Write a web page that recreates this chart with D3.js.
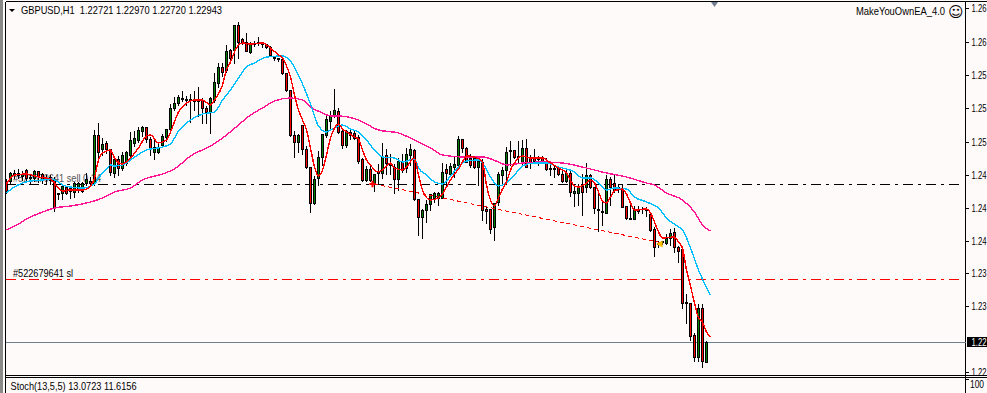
<!DOCTYPE html>
<html>
<head>
<meta charset="utf-8">
<script src="https://cdnjs.cloudflare.com/ajax/libs/d3/7.8.5/d3.min.js"></script>
<style>
	html, body { margin: 0; padding: 0; background: #FFFAFA; overflow: hidden; }
	svg { display: block; }
	text { font-family: "Liberation Sans", sans-serif; font-size: 10.5px; fill: #000; }
</style>
</head>
<body>
<div id="chart"></div>
<script>
// GBPUSD H1 candles, oldest first
const opens = [1.24714,1.24714,1.24802,1.24780,1.24769,1.24835,1.24758,1.24747,1.24824,1.24791,1.24747,1.24758,1.24725,1.24571,1.24582,1.24648,1.24637,1.24593,1.24615,1.24604,1.24692,1.24714,1.24692,1.25220,1.25066,1.25132,1.25066,1.24802,1.24956,1.24857,1.24912,1.25000,1.25132,1.25165,1.25264,1.25308,1.25176,1.25033,1.25033,1.25110,1.25198,1.25286,1.25517,1.25572,1.25627,1.25616,1.25616,1.25594,1.25605,1.25605,1.25517,1.25473,1.25605,1.25792,1.25968,1.25935,1.26155,1.26155,1.26430,1.26276,1.26243,1.26133,1.26232,1.26232,1.26232,1.26221,1.26188,1.26078,1.26067,1.26056,1.25902,1.25715,1.25220,1.25143,1.25330,1.25066,1.24868,1.24472,1.24747,1.24978,1.25220,1.25374,1.25429,1.25484,1.25264,1.25110,1.25253,1.25242,1.25198,1.24956,1.24725,1.24846,1.24692,1.24802,1.24802,1.25000,1.24912,1.24868,1.24736,1.24923,1.24857,1.25000,1.25055,1.24516,1.24318,1.24395,1.24461,1.24527,1.24527,1.24527,1.24846,1.24791,1.24868,1.24890,1.25176,1.25077,1.24967,1.24967,1.24868,1.24923,1.24406,1.24406,1.24208,1.24483,1.24780,1.24835,1.25044,1.25055,1.24978,1.24912,1.25077,1.24978,1.24978,1.24956,1.24967,1.24923,1.24857,1.24857,1.24857,1.24791,1.24714,1.24802,1.24582,1.24582,1.24659,1.24648,1.24780,1.24648,1.24406,1.24384,1.24362,1.24736,1.24692,1.24648,1.24626,1.24439,1.24307,1.24296,1.24406,1.24406,1.24406,1.24351,1.24186,1.24032,1.24054,1.24032,1.24087,1.24153,1.23988,1.23966,1.23383,1.23372,1.23020,1.22778,1.23317,1.22721];
const highs = [1.24747,1.24824,1.24846,1.24857,1.24835,1.24857,1.24802,1.24846,1.24835,1.24813,1.24791,1.24791,1.24769,1.24593,1.24670,1.24659,1.24670,1.24714,1.24714,1.24714,1.24813,1.24769,1.25286,1.25363,1.25198,1.25165,1.25077,1.25000,1.25000,1.25044,1.25055,1.25264,1.25275,1.25319,1.25330,1.25319,1.25209,1.25187,1.25154,1.25242,1.25297,1.25572,1.25649,1.25671,1.25715,1.25660,1.25682,1.25715,1.25759,1.25638,1.25550,1.25649,1.25913,1.26023,1.26023,1.26221,1.26177,1.26441,1.26474,1.26298,1.26353,1.26254,1.26265,1.26309,1.26254,1.26232,1.26210,1.26100,1.26078,1.26078,1.25902,1.25726,1.25275,1.25242,1.25341,1.25110,1.24879,1.24780,1.25055,1.25242,1.25440,1.25495,1.25737,1.25528,1.25286,1.25286,1.25286,1.25275,1.25231,1.24978,1.24890,1.24890,1.24802,1.24912,1.25143,1.25077,1.25022,1.24912,1.24978,1.25022,1.25088,1.25132,1.25077,1.24527,1.24417,1.24516,1.24582,1.24604,1.24604,1.24923,1.24912,1.24923,1.25000,1.25220,1.25187,1.25099,1.25022,1.25000,1.24978,1.24967,1.24450,1.24417,1.24483,1.24824,1.24879,1.25099,1.25165,1.25066,1.25165,1.25176,1.25187,1.25011,1.25077,1.25000,1.25000,1.24978,1.24912,1.24901,1.24890,1.24835,1.24857,1.24835,1.24659,1.24692,1.24802,1.24923,1.24802,1.24659,1.24615,1.24505,1.24791,1.24769,1.24802,1.24692,1.24692,1.24450,1.24505,1.24450,1.24450,1.24439,1.24439,1.24384,1.24219,1.24065,1.24065,1.24142,1.24197,1.24208,1.24010,1.24010,1.23482,1.23383,1.23053,1.23372,1.23372,1.22970];
const lows = [1.24582,1.24692,1.24747,1.24747,1.24725,1.24714,1.24692,1.24714,1.24703,1.24692,1.24681,1.24681,1.24384,1.24516,1.24516,1.24571,1.24527,1.24538,1.24593,1.24593,1.24670,1.24670,1.24670,1.24923,1.25000,1.25022,1.24780,1.24758,1.24780,1.24835,1.24890,1.24978,1.25099,1.25143,1.25209,1.25143,1.25000,1.24956,1.25022,1.25088,1.25154,1.25264,1.25495,1.25550,1.25594,1.25550,1.25363,1.25495,1.25429,1.25352,1.25352,1.25242,1.25583,1.25748,1.25869,1.25913,1.26056,1.26012,1.26067,1.26221,1.26144,1.26122,1.26199,1.26210,1.26188,1.26177,1.26089,1.26045,1.26034,1.25891,1.25704,1.25209,1.24978,1.25033,1.25011,1.24857,1.24373,1.24461,1.24670,1.24890,1.25198,1.25275,1.25418,1.25242,1.25077,1.25088,1.25176,1.25176,1.24912,1.24714,1.24714,1.24714,1.24604,1.24692,1.24747,1.24791,1.24791,1.24582,1.24615,1.24813,1.24813,1.24890,1.24505,1.24120,1.24087,1.24263,1.24395,1.24483,1.24450,1.24527,1.24670,1.24780,1.24758,1.24879,1.25033,1.24923,1.24868,1.24857,1.24670,1.24285,1.24252,1.24142,1.24065,1.24450,1.24670,1.24703,1.24890,1.24967,1.24923,1.24901,1.24868,1.24857,1.24912,1.24890,1.24912,1.24835,1.24780,1.24758,1.24780,1.24703,1.24703,1.24549,1.24439,1.24450,1.24340,1.24593,1.24637,1.24362,1.24164,1.24230,1.24362,1.24450,1.24593,1.24593,1.24428,1.24296,1.24296,1.24296,1.24362,1.24362,1.24329,1.24164,1.23889,1.23988,1.24021,1.24021,1.24010,1.23933,1.23823,1.23317,1.23152,1.22965,1.22734,1.22734,1.22668,1.22720];
const closes = [1.24604,1.24802,1.24791,1.24802,1.24791,1.24747,1.24747,1.24824,1.24769,1.24725,1.24736,1.24725,1.24428,1.24582,1.24659,1.24582,1.24604,1.24692,1.24692,1.24692,1.24736,1.24692,1.25220,1.25033,1.25121,1.25066,1.24813,1.24956,1.24857,1.25000,1.25033,1.25165,1.25187,1.25275,1.25308,1.25176,1.25066,1.25088,1.25088,1.25209,1.25286,1.25517,1.25572,1.25638,1.25616,1.25605,1.25605,1.25616,1.25594,1.25517,1.25473,1.25627,1.25803,1.25968,1.25913,1.26144,1.26067,1.26430,1.26243,1.26232,1.26144,1.26232,1.26221,1.26243,1.26221,1.26188,1.26100,1.26067,1.26056,1.25902,1.25715,1.25220,1.25143,1.25220,1.25066,1.24868,1.24472,1.24736,1.24978,1.25231,1.25396,1.25440,1.25495,1.25253,1.25110,1.25264,1.25220,1.25187,1.24934,1.24725,1.24846,1.24725,1.24791,1.24824,1.24989,1.24912,1.24890,1.24736,1.24934,1.24835,1.25011,1.25066,1.24516,1.24318,1.24395,1.24461,1.24571,1.24582,1.24582,1.24813,1.24802,1.24879,1.24901,1.25176,1.25077,1.24923,1.24890,1.24868,1.24934,1.24395,1.24384,1.24186,1.24472,1.24791,1.24835,1.25033,1.25055,1.24978,1.24989,1.25077,1.24868,1.24923,1.24934,1.24978,1.24923,1.24846,1.24846,1.24846,1.24791,1.24714,1.24802,1.24593,1.24604,1.24659,1.24593,1.24780,1.24648,1.24417,1.24395,1.24373,1.24736,1.24648,1.24615,1.24626,1.24428,1.24307,1.24296,1.24395,1.24384,1.24406,1.24395,1.24175,1.23988,1.24021,1.24043,1.24087,1.24142,1.23988,1.23944,1.23372,1.23372,1.23009,1.22778,1.23317,1.22734,1.22943];

// moving averages as [bar, price], read where the line is visible
const fastMa = [[0,1.24681],[2,1.24780],[5,1.24791],[8,1.24758],[11,1.24736],[13,1.24637],[14,1.24604],[16,1.24615],[19,1.24615],[21,1.24659],[22,1.24747],[23,1.24945],[24,1.25022],[26,1.25055],[27,1.24967],[29,1.24901],[31,1.24967],[33,1.25077],[35,1.25209],[36,1.25220],[38,1.25132],[40,1.25165],[41,1.25253],[43,1.25473],[45,1.25572],[47,1.25605],[49,1.25605],[51,1.25550],[52,1.25605],[54,1.25770],[55,1.25935],[56,1.26023],[57,1.26133],[58,1.26210],[59,1.26232],[61,1.26221],[64,1.26232],[66,1.26177],[68,1.26100],[69,1.26067],[70,1.25979],[71,1.25858],[72,1.25660],[73,1.25495],[74,1.25385],[75,1.25275],[76,1.25077],[77,1.24868],[78,1.24769],[79,1.24835],[80,1.25000],[81,1.25187],[82,1.25297],[83,1.25341],[84,1.25286],[85,1.25253],[87,1.25198],[88,1.25176],[89,1.25055],[90,1.24945],[91,1.24890],[92,1.24835],[93,1.24813],[95,1.24879],[96,1.24912],[97,1.24857],[99,1.24835],[100,1.24868],[102,1.24967],[103,1.24780],[104,1.24615],[106,1.24505],[108,1.24527],[109,1.24571],[110,1.24648],[111,1.24725],[112,1.24791],[113,1.24846],[114,1.24923],[115,1.24989],[117,1.24978],[119,1.24923],[120,1.24670],[121,1.24505],[122,1.24439],[123,1.24527],[124,1.24626],[125,1.24703],[126,1.24835],[127,1.24912],[128,1.24967],[129,1.24989],[131,1.24967],[134,1.24967],[136,1.24912],[138,1.24857],[140,1.24802],[142,1.24659],[143,1.24648],[145,1.24692],[146,1.24725],[147,1.24692],[148,1.24593],[149,1.24494],[150,1.24472],[151,1.24538],[152,1.24604],[154,1.24626],[155,1.24571],[156,1.24472],[157,1.24395],[160,1.24406],[161,1.24362],[162,1.24263],[163,1.24153],[164,1.24087],[167,1.24098],[168,1.24043],[169,1.23977],[170,1.23735],[171,1.23559],[172,1.23372],[173,1.23207],[174,1.23163],[175,1.23053],[176,1.22998]];
const midMa = [[0,1.24582],[2,1.24648],[4,1.24692],[6,1.24714],[9,1.24725],[11,1.24736],[13,1.24703],[14,1.24670],[16,1.24648],[19,1.24637],[22,1.24681],[23,1.24747],[25,1.24846],[26,1.24890],[27,1.24879],[29,1.24890],[32,1.24978],[35,1.25055],[39,1.25088],[41,1.25121],[43,1.25264],[46,1.25385],[49,1.25451],[52,1.25473],[54,1.25605],[56,1.25715],[58,1.25847],[60,1.25968],[62,1.26012],[65,1.26078],[69,1.26089],[71,1.26034],[74,1.25781],[76,1.25561],[78,1.25319],[80,1.25253],[81,1.25275],[84,1.25330],[86,1.25286],[88,1.25253],[90,1.25165],[92,1.25055],[94,1.24978],[97,1.24967],[99,1.24923],[102,1.24956],[103,1.24857],[105,1.24780],[107,1.24703],[109,1.24681],[111,1.24769],[113,1.24868],[115,1.24934],[118,1.24945],[119,1.24912],[121,1.24758],[123,1.24659],[125,1.24692],[127,1.24780],[129,1.24879],[132,1.24912],[135,1.24912],[138,1.24868],[139,1.24857],[142,1.24813],[144,1.24747],[146,1.24747],[148,1.24692],[150,1.24615],[152,1.24637],[155,1.24626],[157,1.24538],[160,1.24483],[163,1.24417],[165,1.24307],[168,1.24208],[169,1.24175],[171,1.23977],[173,1.23735],[176,1.23460]];
const slowMa = [[0,1.24175],[3,1.24241],[5,1.24296],[9,1.24373],[12,1.24417],[16,1.24439],[21,1.24483],[24,1.24527],[27,1.24593],[31,1.24637],[34,1.24725],[39,1.24791],[42,1.24846],[46,1.24989],[51,1.25099],[54,1.25187],[58,1.25330],[61,1.25440],[64,1.25517],[67,1.25594],[71,1.25627],[74,1.25605],[76,1.25528],[79,1.25462],[81,1.25429],[83,1.25429],[88,1.25385],[93,1.25275],[98,1.25242],[102,1.25165],[106,1.25077],[109,1.25000],[114,1.24978],[119,1.24978],[123,1.24923],[125,1.24890],[129,1.24912],[134,1.24923],[139,1.24912],[145,1.24857],[150,1.24802],[155,1.24758],[160,1.24692],[162,1.24670],[165,1.24582],[169,1.24505],[172,1.24373],[174,1.24230],[176,1.24164]];

// trade 522679641, entered and closed on these bars
const tradeBars = [92, 164];
const tradePrices = [1.24681, 1.24032];
const orderPrice = 1.24681;
const stopPrice = 1.23636;
const bidPrice = 1.22943;

const priceTicks = [1.26617, 1.26243, 1.25880, 1.25517, 1.25143, 1.24780, 1.24417, 1.24054, 1.23702, 1.23339, 1.22613];

const chart_width = 987;
const chart_height = 393;
const axis_x = 965.5;

const x_scale = d3.scaleLinear()
	.domain([0, 175])
	.range([6.5, 706.5]);

const y_scale = d3.scaleLinear()
	.domain([1.26705, 1.22613])
	.range([0, 372]);

const py = (p) => Math.round(y_scale(p)) + 0.5;

const svg = d3.select('#chart')
	.append('svg')
	.attr('width', chart_width)
	.attr('height', chart_height);

svg.append('rect')
	.attr('width', chart_width)
	.attr('height', chart_height)
	.attr('fill', '#FFFAFA');

// window frame
svg.append('rect').attr('x', 0).attr('y', 0).attr('width', 3).attr('height', chart_height).attr('fill', '#8A8A8A');
const frame_lines = [[5.5, 1.5, 5.5, chart_height], [5.5, 1.5, chart_width, 1.5], [5.5, 375.5, chart_width, 375.5], [5.5, 377.5, chart_width, 377.5], [axis_x, 1.5, axis_x, chart_height]];
svg.selectAll('line.frame')
	.data(frame_lines)
	.enter()
	.append('line')
	.attr('class', 'frame')
	.attr('x1', (d) => d[0])
	.attr('y1', (d) => d[1])
	.attr('x2', (d) => d[2])
	.attr('y2', (d) => d[3])
	.attr('stroke', '#000')
	.attr('shape-rendering', 'crispEdges');

// order lines and their labels sit under the candles
function levelLine(price, color) {
	svg.append('line')
		.attr('x1', 6)
		.attr('x2', 962)
		.attr('y1', py(price))
		.attr('y2', py(price))
		.attr('stroke', color)
		.attr('stroke-dasharray', '10 5 3 5')
		.attr('shape-rendering', 'crispEdges');
}
levelLine(orderPrice, '#000');
levelLine(stopPrice, '#FF0000');

// text drawn to the width it has in the terminal font
function label(x, y, str, width) {
	return svg.append('text')
		.attr('x', x)
		.attr('y', y)
		.attr('textLength', width)
		.attr('lengthAdjust', 'spacingAndGlyphs')
		.text(str);
}

label(13, 182, '#522679641 sell 0.14', 88).style('fill', '#555');
label(13, 277, '#522679641 sl', 60);

svg.append('line')
	.attr('x1', 6)
	.attr('x2', axis_x)
	.attr('y1', py(bidPrice))
	.attr('y2', py(bidPrice))
	.attr('stroke', '#708090')
	.attr('shape-rendering', 'crispEdges');

// candles
const bars = d3.range(opens.length);
const candle = svg.append('g')
	.attr('shape-rendering', 'crispEdges')
	.selectAll('g')
	.data(bars)
	.enter()
	.append('g');

candle.append('line')
	.attr('x1', (i) => x_scale(i))
	.attr('x2', (i) => x_scale(i))
	.attr('y1', (i) => py(highs[i]))
	.attr('y2', (i) => py(lows[i]))
	.attr('stroke', '#000');

candle.append('rect')
	.attr('x', (i) => x_scale(i) - 1)
	.attr('width', 2)
	.attr('y', (i) => py(Math.max(opens[i], closes[i])))
	.attr('height', (i) => py(Math.min(opens[i], closes[i])) - py(Math.max(opens[i], closes[i])))
	.attr('fill', (i) => closes[i] > opens[i] ? '#008000' : '#FF0000')
	.attr('stroke', '#000');

// moving averages
const ma_line = d3.line()
	.x((d) => x_scale(d[0]))
	.y((d) => y_scale(d[1]))
	.curve(d3.curveMonotoneX);

[[slowMa, '#FF1493'], [midMa, '#00BFFF'], [fastMa, '#FF0000']].forEach(function(ma) {
	svg.append('path')
		.attr('d', ma_line(ma[0]))
		.attr('fill', 'none')
		.attr('stroke', ma[1])
		.attr('stroke-width', 1.4)
		.attr('shape-rendering', 'crispEdges');
});

// trade line, entry cross and exit arrow
svg.append('line')
	.attr('x1', x_scale(tradeBars[0]))
	.attr('y1', y_scale(tradePrices[0]))
	.attr('x2', x_scale(tradeBars[1]))
	.attr('y2', y_scale(tradePrices[1]))
	.attr('stroke', '#FF0000')
	.attr('stroke-dasharray', '4 3')
	.attr('shape-rendering', 'crispEdges');

svg.append('path')
	.attr('d', d3.symbol(d3.symbolCross, 22)())
	.attr('transform', 'translate(' + (x_scale(tradeBars[0]) - 2) + ',' + y_scale(tradePrices[0]) + ')')
	.attr('fill', '#FF0000');

svg.append('path')
	.attr('d', d3.symbol(d3.symbolTriangle, 22)())
	.attr('transform', 'translate(' + (x_scale(tradeBars[1]) - 2) + ',' + (y_scale(tradePrices[1]) + 1) + ') rotate(-90)')
	.attr('fill', '#FFC000');

// price axis, the window edge cuts the labels after the second decimal
const y_axis = d3.axisRight(y_scale)
	.tickValues(priceTicks)
	.tickSize(3)
	.tickPadding(3)
	.tickFormat((d) => d3.format('.4f')(d).slice(0, 4));

const axis_g = svg.append('g')
	.attr('transform', 'translate(' + axis_x + ',0)')
	.call(y_axis);
axis_g.select('.domain').remove();
axis_g.selectAll('text')
	.style('font-family', '"Liberation Sans", sans-serif')
	.style('font-size', '10.5px')
	.attr('textLength', 15)
	.attr('lengthAdjust', 'spacingAndGlyphs');
axis_g.selectAll('line').attr('shape-rendering', 'crispEdges');

// bid box
svg.append('rect').attr('x', 967).attr('y', 337).attr('width', 20).attr('height', 10).attr('fill', '#000');
label(971.5, 346, d3.format('.4f')(bidPrice).slice(0, 4), 15).style('fill', '#FFF');

// header and footer texts
svg.append('path').attr('d', 'M9,9L15,9L12,12Z').attr('fill', '#000');
svg.append('path').attr('d', 'M711,2L718,2L714.5,7Z').attr('fill', '#708090');
label(21, 14, 'GBPUSD,H1  1.22721 1.22970 1.22720 1.22943', 201).attr('xml:space', 'preserve');
label(856, 15, 'MakeYouOwnEA_4.0', 89);
svg.append('text').attr('x', 948).attr('y', 17).style('font-family', '"DejaVu Sans"').style('font-size', '15px').text('\u263A');
label(10.5, 390, 'Stoch(13,5,5) 13.0723 11.6156', 126);
svg.append('line').attr('x1', axis_x).attr('x2', axis_x + 3).attr('y1', 379.5).attr('y2', 379.5).attr('stroke', '#000').attr('shape-rendering', 'crispEdges');
label(970, 388, '100', 14);
</script>
</body>
</html>
